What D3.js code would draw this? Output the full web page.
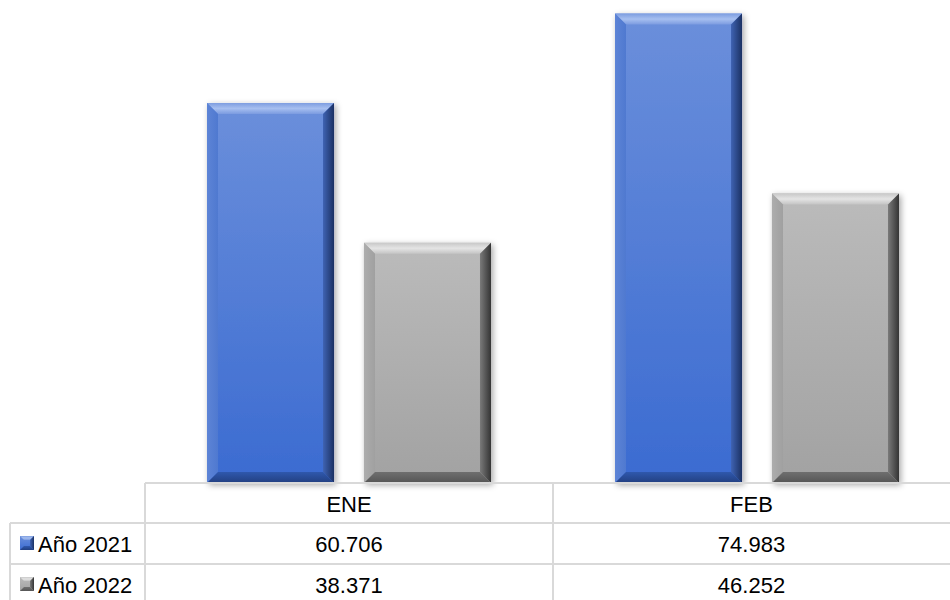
<!DOCTYPE html>
<html>
<head>
<meta charset="utf-8">
<script src="https://cdn.jsdelivr.net/npm/d3@7"></script>
<style>
  html, body { margin: 0; padding: 0; background: #fff; }
  svg { display: block; }
  text { font-family: "Liberation Sans", Arial, sans-serif; fill: #000; }
</style>
</head>
<body>
<svg id="chart" width="950" height="600"></svg>
<script>
// Monthly totals per year, shown as bevelled columns with a data table underneath
const categories = ["ENE", "FEB"];
const seriesNames = ["Año 2021", "Año 2022"];
const values2021 = [60706, 74983];
const values2022 = [38371, 46252];
const seriesValues = [values2021, values2022];

const W = 950, H = 600;
const baseY = 483;          // bottom of plot / top of data table
const plotLeft = 145;
const catWidth = 408;
const rowTops = [483, 523, 564];
const tableLeft = 10;

const fmt = d3.formatLocale({ decimal: ",", thousands: ".", grouping: [3], currency: ["", ""] }).format(",d");

const svg = d3.select("#chart");
const defs = svg.append("defs");

// palettes for the bevelled look (body + four edges)
const palettes = [
  { body: ["#6b8fdb", "#3b6bd1"], top: ["#7d9de0", "#a6bff0", "#7b9be0"], left: ["#5d84d6", "#4f79d0"],
    right: ["#3f63b3", "#1b3163"], bottom: ["#2f58ad", "#223f80"], key: "#3f6fd0" },
  { body: ["#bbbbbb", "#a2a2a2"], top: ["#c8c8c8", "#e4e4e4", "#c4c4c4"], left: ["#adadad", "#a0a0a0"],
    right: ["#7a7a7a", "#343434"], bottom: ["#6f6f6f", "#555555"], key: "#9a9a9a" }
];

function linGrad(id, stops, vertical) {
  const g = defs.append("linearGradient").attr("id", id)
    .attr("x1", 0).attr("y1", 0).attr("x2", vertical ? 0 : 1).attr("y2", vertical ? 1 : 0);
  stops.forEach((c, i) => g.append("stop").attr("offset", i / (stops.length - 1)).attr("stop-color", c));
}
palettes.forEach((p, i) => {
  linGrad("body" + i, p.body, true);
  linGrad("top" + i, p.top, true);
  linGrad("left" + i, p.left, false);
  linGrad("right" + i, p.right, false);
  linGrad("bottom" + i, p.bottom, true);
});

const shadow = defs.append("filter").attr("id", "shadow")
  .attr("x", "-10%").attr("y", "-10%").attr("width", "120%").attr("height", "120%");
shadow.append("feDropShadow").attr("dx", 2).attr("dy", 2).attr("stdDeviation", 3)
  .attr("flood-color", "#000").attr("flood-opacity", 0.35);

// scales
const x0 = d3.scaleBand().domain(categories).range([plotLeft, plotLeft + catWidth * categories.length]).padding(0);
const x1 = d3.scaleBand().domain(seriesNames).range([0, x0.bandwidth()])
  .paddingInner(0.191).paddingOuter(0.395);
const y = d3.scaleLinear().domain([0, 80000]).range([baseY, baseY - 80000 * 0.00626]);

// bars
const bevel = 11;
const bars = [];
categories.forEach((c, ci) => {
  seriesNames.forEach((s, si) => {
    bars.push({ cat: c, series: s, si, value: seriesValues[si][ci] });
  });
});

const barG = svg.append("g").selectAll("g").data(bars).join("g")
  .attr("transform", d => `translate(${x0(d.cat) + x1(d.series)},${y(d.value)})`);

barG.each(function (d) {
  const g = d3.select(this);
  const w = x1.bandwidth();
  const h = baseY - y(d.value);
  const b = bevel;
  g.append("rect").attr("width", w).attr("height", h)
    .attr("fill", `url(#body${d.si})`).attr("filter", "url(#shadow)");
  const pts = {
    top: [[0, 0], [w, 0], [w - b, b], [b, b]],
    left: [[0, 0], [b, b], [b, h - b], [0, h]],
    right: [[w, 0], [w, h], [w - b, h - b], [w - b, b]],
    bottom: [[0, h], [b, h - b], [w - b, h - b], [w, h]]
  };
  Object.keys(pts).forEach(k => {
    g.append("polygon").attr("points", pts[k].map(p => p.join(",")).join(" "))
      .attr("fill", `url(#${k}${d.si})`);
  });
});

// data table
const grid = svg.append("g").attr("stroke", "#d9d9d9").attr("stroke-width", 2);
grid.append("line").attr("x1", plotLeft).attr("x2", W).attr("y1", rowTops[0]).attr("y2", rowTops[0]);
grid.append("line").attr("x1", tableLeft).attr("x2", W).attr("y1", rowTops[1]).attr("y2", rowTops[1]);
grid.append("line").attr("x1", tableLeft).attr("x2", W).attr("y1", rowTops[2]).attr("y2", rowTops[2]);
grid.append("line").attr("x1", tableLeft).attr("x2", tableLeft).attr("y1", rowTops[1]).attr("y2", H);
grid.append("line").attr("x1", plotLeft).attr("x2", plotLeft).attr("y1", rowTops[0]).attr("y2", H);
categories.slice(1).forEach(c => {
  grid.append("line").attr("x1", x0(c)).attr("x2", x0(c)).attr("y1", rowTops[0]).attr("y2", H);
});

function cellCenter(c) {
  const left = x0(c), right = Math.min(W, left + x0.bandwidth());
  return (left + right) / 2;
}

const fontSize = 22;
svg.append("g").selectAll("text").data(categories).join("text")
  .attr("x", d => cellCenter(d)).attr("y", rowTops[0] + 29)
  .attr("text-anchor", "middle").attr("font-size", fontSize).text(d => d);

seriesNames.forEach((s, si) => {
  const rowY = rowTops[si + 1] + 29;
  svg.append("g").selectAll("text").data(categories).join("text")
    .attr("x", d => cellCenter(d)).attr("y", rowY)
    .attr("text-anchor", "middle").attr("font-size", fontSize)
    .text((d, ci) => fmt(seriesValues[si][ci]));

  // legend key: small bevelled square
  const k = 14, kb = 4, kx = 20, ky = rowTops[si + 1] + 13;
  const kg = svg.append("g").attr("transform", `translate(${kx},${ky})`);
  kg.append("rect").attr("width", k).attr("height", k).attr("fill", `url(#body${si})`);
  kg.append("polygon").attr("points", `0,0 ${k},0 ${k - kb},${kb} ${kb},${kb}`).attr("fill", `url(#top${si})`);
  kg.append("polygon").attr("points", `${k},0 ${k},${k} ${k - kb},${k - kb} ${k - kb},${kb}`).attr("fill", `url(#right${si})`);
  kg.append("polygon").attr("points", `0,${k} ${kb},${k - kb} ${k - kb},${k - kb} ${k},${k}`).attr("fill", `url(#bottom${si})`);
  svg.append("text").attr("x", 38).attr("y", rowY).attr("font-size", fontSize).text(s);
});
</script>
</body>
</html>
